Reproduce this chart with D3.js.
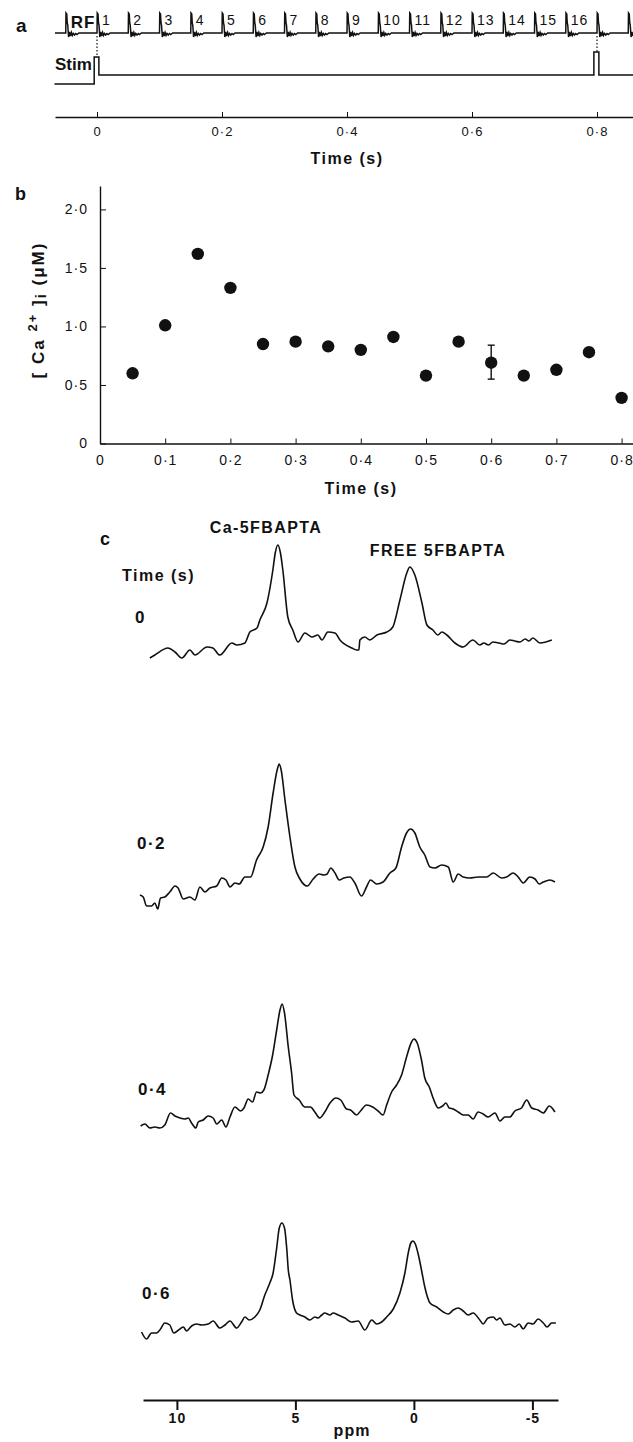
<!DOCTYPE html>
<html>
<head>
<meta charset="utf-8">
<script src="https://cdn.jsdelivr.net/npm/d3@7"></script>
<style>
body { margin: 0; background: #fff; }
svg text { font-family: "Liberation Sans", Arial, sans-serif; fill: #111; }
.bold { font-weight: bold; }
</style>
</head>
<body>
<div id="chart"></div>
<script>
// ---------- data ----------
// panel a: RF pulse times (s) and their labels
let rfTimes = [-0.05, 0, 0.05, 0.1, 0.15, 0.2, 0.25, 0.3, 0.35, 0.4, 0.45, 0.5, 0.55, 0.6, 0.65, 0.7, 0.75, 0.8, 0.85];
let rfLabels = ["RF", "1", "2", "3", "4", "5", "6", "7", "8", "9", "10", "11", "12", "13", "14", "15", "16"];
// shape of one RF echo: [ms after pulse, amplitude]
let rfEcho = [[0, 0], [0.4, 20], [1.6, 19], [2.4, 10], [3.2, 8], [4.5, -4], [6, 1], [7.5, -3], [9, 0.5],
  [10.5, -2.5], [12, -0.5], [14, -2], [16, -0.5], [18, -1.5], [21, 0]];
// stimulus trace: [time s, level]
let stimTrace = [[-0.068, -0.5], [-0.0045, -0.5], [-0.0045, 1], [0.003, 1], [0.003, 0], [0.795, 0],
  [0.795, 1.28], [0.803, 1.28], [0.803, 0], [0.86, 0]];
let stimTimes = [0, 0.8];
let timeTicksA = [0, 0.2, 0.4, 0.6, 0.8];

// panel b: [Ca2+]i
let caTime = [0.05, 0.1, 0.15, 0.2, 0.25, 0.3, 0.35, 0.4, 0.45, 0.5, 0.55, 0.6, 0.65, 0.7, 0.75, 0.8];
let caConc = [0.60, 1.01, 1.62, 1.33, 0.85, 0.87, 0.83, 0.80, 0.91, 0.58, 0.87, 0.69, 0.58, 0.63, 0.78, 0.39];
let errBar = {t: 0.6, lo: 0.55, hi: 0.84};
let timeTicksB = [0, 0.1, 0.2, 0.3, 0.4, 0.5, 0.6, 0.7, 0.8];
let concTicks = [0, 0.5, 1.0, 1.5, 2.0];

// panel c: 19F spectra [ppm, intensity]
let specLabels = ["0", "0\u00b72", "0\u00b74", "0\u00b76"];
let spec0 = [[11.14,7],[10.93,10],[10.38,17],[10.08,13],[9.79,7],[9.45,15],[9.24,10],[8.73,18],[8.48,17],[8.19,10],
  [7.68,22],[7.47,20],[7.13,22],[6.92,33],[6.62,37],[6.50,45],[6.20,62],[5.95,95],[5.85,112],[5.74,120],[5.63,112],
  [5.53,95],[5.32,48],[5.11,35],[4.89,23],[4.60,32],[4.30,28],[4.05,30],[3.88,25],[3.63,33],[3.33,32],[3.12,25],
  [2.62,17],[2.41,15],[2.32,15],[2.28,25],[2.07,28],[1.86,25],[1.56,30],[1.14,33],[0.89,38],[0.59,65],[0.30,92],
  [0.17,98],[-0.04,90],[-0.34,62],[-0.55,40],[-0.80,35],[-1.01,30],[-1.18,33],[-1.39,30],[-1.73,22],[-2.07,18],
  [-2.49,25],[-2.78,20],[-2.95,22],[-3.15,20],[-3.33,23],[-3.6,22],[-3.8,21],[-4.05,25],[-4.25,24],[-4.47,23],
  [-4.7,26],[-4.85,24],[-5.02,27],[-5.32,22],[-5.82,25]];
let spec02 = [[11.56,17],[11.42,15],[11.28,6],[11.07,6],[10.93,9],[10.81,3],[10.69,14],[10.51,15],[10.30,20],[10.08,26],
  [9.95,24],[9.73,13],[9.45,15],[9.24,12],[9.03,25],[8.82,20],[8.61,24],[8.32,26],[8.11,34],[7.93,32],[7.76,25],
  [7.55,29],[7.37,28],[7.13,35],[6.89,35],[6.64,52],[6.36,65],[6.15,85],[5.94,119],[5.77,142],[5.68,148],[5.60,142],
  [5.44,112],[5.23,75],[5.02,45],[4.81,33],[4.50,26],[4.25,33],[4.00,38],[3.80,37],[3.66,38],[3.51,44],[3.33,39],
  [3.15,32],[2.95,34],[2.70,35],[2.49,29],[2.21,16],[2.00,25],[1.83,32],[1.57,28],[1.30,30],[1.01,39],[0.76,44],
  [0.52,65],[0.31,79],[0.14,83],[-0.04,79],[-0.25,65],[-0.46,57],[-0.68,45],[-0.89,44],[-1.17,47],[-1.45,45],
  [-1.66,30],[-1.87,38],[-2.08,35],[-2.36,34],[-2.71,35],[-3.07,35],[-3.35,39],[-3.70,34],[-3.91,35],[-4.19,39],
  [-4.40,35],[-4.61,29],[-4.89,35],[-5.11,33],[-5.29,28],[-5.46,30],[-5.74,32],[-5.95,30]];
let spec04 = [[11.53,4],[11.35,6],[11.14,2],[10.93,3],[10.72,2],[10.51,5],[10.27,17],[10.08,14],[9.87,12],[9.66,11],
  [9.52,12],[9.38,7],[9.20,2],[9.10,8],[8.89,10],[8.68,14],[8.47,12],[8.32,6],[8.11,10],[7.93,3],[7.76,13],[7.55,23],
  [7.31,19],[7.17,22],[6.99,31],[6.81,28],[6.64,38],[6.47,37],[6.33,40],[6.15,55],[5.96,75],[5.79,100],[5.65,120],
  [5.56,126],[5.46,117],[5.30,83],[5.16,57],[5.06,35],[4.84,30],[4.60,23],[4.36,23],[4.18,18],[3.97,12],[3.76,18],
  [3.54,27],[3.29,32],[3.09,30],[2.84,21],[2.67,20],[2.42,15],[2.25,19],[2.00,25],[1.74,23],[1.51,19],[1.30,15],
  [1.15,25],[0.94,38],[0.73,45],[0.52,55],[0.31,73],[0.10,88],[0.00,91],[-0.14,87],[-0.32,70],[-0.46,52],[-0.65,43],
  [-0.81,32],[-1.03,22],[-1.21,24],[-1.35,27],[-1.49,22],[-1.66,21],[-1.87,18],[-2.08,15],[-2.29,15],[-2.50,11],
  [-2.71,18],[-2.92,16],[-3.13,13],[-3.42,17],[-3.63,9],[-3.84,13],[-4.05,13],[-4.26,19],[-4.54,22],[-4.76,30],
  [-4.97,22],[-5.24,20],[-5.46,17],[-5.71,24],[-5.95,18]];
let spec06 = [[11.49,10],[11.28,3],[11.07,9],[10.86,9],[10.72,12],[10.51,19],[10.30,17],[10.13,9],[9.87,13],[9.73,15],
  [9.59,11],[9.38,16],[9.17,18],[8.96,17],[8.68,18],[8.47,21],[8.19,14],[7.97,17],[7.76,21],[7.48,14],[7.27,20],
  [7.13,25],[6.95,22],[6.71,25],[6.50,32],[6.29,47],[6.08,59],[5.94,69],[5.80,92],[5.68,114],[5.57,119],[5.46,114],
  [5.36,92],[5.30,72],[5.23,62],[5.12,42],[4.95,29],[4.81,27],[4.60,25],[4.39,22],[4.18,25],[4.04,24],[3.89,27],
  [3.76,29],[3.54,27],[3.41,29],[3.19,27],[2.91,24],[2.63,20],[2.35,21],[2.07,12],[1.78,22],[1.57,18],[1.36,20],
  [1.15,25],[0.87,33],[0.59,49],[0.38,69],[0.23,90],[0.13,99],[0.04,101],[-0.06,98],[-0.19,87],[-0.32,72],[-0.46,55],
  [-0.68,39],[-0.96,35],[-1.24,30],[-1.45,28],[-1.66,32],[-1.87,34],[-2.08,31],[-2.29,27],[-2.50,29],[-2.78,22],
  [-2.92,18],[-3.13,24],[-3.35,25],[-3.49,22],[-3.63,24],[-3.84,17],[-4.05,18],[-4.26,15],[-4.44,18],[-4.61,13],
  [-4.82,19],[-5.03,18],[-5.24,23],[-5.46,19],[-5.62,15],[-5.81,19],[-5.99,19]];
let ppmTicks = [10, 5, 0, -5];

// ---------- drawing ----------
let width = 633;
let height = 1442;
let ink = '#111';
let svg = d3.select('#chart').append('svg')
  .attr('width', width)
  .attr('height', height);

function dotFmt(d) {
  return d === 0 ? '0' : d3.format('.1f')(d).replace('.', '\u00b7');
}
function styleAxis(g, size, bold) {
  g.attr('font-family', null).attr('font-size', size);
  g.selectAll('text').attr('fill', ink).classed('bold', !!bold).style('letter-spacing', '1px');
  g.selectAll('line, path').attr('stroke', ink);
}
function label(txt, x, y, size, anchor) {
  return svg.append('text').attr('class', 'bold')
    .attr('x', x).attr('y', y)
    .attr('font-size', size)
    .attr('text-anchor', anchor || 'start')
    .text(txt);
}

// ===== panel a =====
label('a', 16, 32, 19);
let xa = d3.scaleLinear().domain([-0.0672, 0.8576]).range([55, 633]);
let yRF = d3.scaleLinear().domain([0, 20]).range([33, 13]);
let yStim = d3.scaleLinear().domain([0, 1]).range([75, 57]);

let rfPts = [[xa.domain()[0], 0]];
rfTimes.forEach(function(t) {
  rfEcho.forEach(function(e) { rfPts.push([t + e[0] / 1000, e[1]]); });
});
rfPts = rfPts.filter(p => p[0] <= xa.domain()[1]);

svg.append('path')
  .datum(rfPts)
  .attr('fill', 'none').attr('stroke', ink).attr('stroke-width', 1.5)
  .attr('d', d3.line().x(d => xa(d[0])).y(d => yRF(d[1])));

svg.selectAll('.rflab')
  .data(rfLabels)
  .enter().append('text')
  .attr('class', (d, i) => i === 0 ? 'rflab bold' : 'rflab')
  .attr('x', (d, i) => xa(rfTimes[i]) + 5)
  .attr('y', (d, i) => i === 0 ? 28 : 25)
  .attr('font-size', (d, i) => i === 0 ? 17 : 14)
  .style('letter-spacing', '1px')
  .text(d => d);

svg.append('path')
  .datum(stimTrace)
  .attr('fill', 'none').attr('stroke', ink).attr('stroke-width', 1.5)
  .attr('d', d3.line().x(d => xa(d[0])).y(d => yStim(d[1])));

svg.selectAll('.stimdot')
  .data(stimTimes)
  .enter().append('line')
  .attr('class', 'stimdot')
  .attr('x1', d => xa(d)).attr('x2', d => xa(d))
  .attr('y1', yRF(-3))
  .attr('y2', (d, i) => yStim(i === 0 ? 1 : 1.28))
  .attr('stroke', ink).attr('stroke-width', 1.2)
  .attr('stroke-dasharray', '1.5,2');

label('Stim', 55, 70, 17);

let axA = svg.append('g').attr('transform', 'translate(0,117)')
  .call(d3.axisBottom(xa).tickValues(timeTicksA).tickSize(-5).tickSizeOuter(0).tickPadding(10).tickFormat(dotFmt));
styleAxis(axA, 13);
axA.select('.domain').attr('stroke-width', 1.4);
label('Time (s)', 347, 164, 16, 'middle').style('letter-spacing', '1.5px');

// ===== panel b =====
label('b', 15, 200, 18);
let xb = d3.scaleLinear().domain([0, 0.8175]).range([100, 633]);
let yb = d3.scaleLinear().domain([0, 2.2]).range([443.5, 186]);

let axBx = svg.append('g').attr('transform', 'translate(0,' + yb(0) + ')')
  .call(d3.axisBottom(xb).tickValues(timeTicksB).tickSize(-5).tickSizeOuter(0).tickPadding(12).tickFormat(dotFmt));
styleAxis(axBx, 14);
axBx.select('.domain').attr('stroke-width', 1.4);

let axBy = svg.append('g').attr('transform', 'translate(' + xb(0) + ',0)')
  .call(d3.axisLeft(yb).tickValues(concTicks).tickSize(-6).tickSizeOuter(0).tickPadding(12).tickFormat(dotFmt));
styleAxis(axBy, 14);
axBy.select('.domain').attr('stroke-width', 1.4);

svg.append('line')
  .attr('x1', xb(errBar.t)).attr('x2', xb(errBar.t))
  .attr('y1', yb(errBar.lo)).attr('y2', yb(errBar.hi))
  .attr('stroke', ink).attr('stroke-width', 1.4);
[errBar.lo, errBar.hi].forEach(function(v) {
  svg.append('line')
    .attr('x1', xb(errBar.t) - 3.5).attr('x2', xb(errBar.t) + 3.5)
    .attr('y1', yb(v)).attr('y2', yb(v))
    .attr('stroke', ink).attr('stroke-width', 1.4);
});

svg.selectAll('.capt')
  .data(caTime)
  .enter().append('circle')
  .attr('class', 'capt')
  .attr('cx', d => xb(d))
  .attr('cy', (d, i) => yb(caConc[i]))
  .attr('r', 6.2)
  .attr('fill', ink);

let ylab = svg.append('text').attr('class', 'bold')
  .attr('transform', 'translate(44,310) rotate(-90)')
  .attr('text-anchor', 'middle')
  .attr('font-size', 17)
  .style('letter-spacing', '2px');
ylab.append('tspan').text('[ Ca ');
ylab.append('tspan').attr('font-size', 13).attr('dy', -7).text('2+');
ylab.append('tspan').attr('dy', 7).text(' ]');
ylab.append('tspan').attr('font-size', 15).attr('dy', 2).text('i');
ylab.append('tspan').attr('dy', -2).text('  (\u03bcM)');

label('Time (s)', 361, 494, 16, 'middle').style('letter-spacing', '1.5px');

// ===== panel c =====
label('c', 100, 545, 18);
label('Ca-5FBAPTA', 266, 533, 16, 'middle').style('letter-spacing', '1.4px');
label('FREE 5FBAPTA', 438, 556, 16, 'middle').style('letter-spacing', '1.4px');
label('Time (s)', 122, 581, 16).style('letter-spacing', '1.5px');

let xc = d3.scaleLinear().domain([11.43, -6.08]).range([143, 558]);
let yc = d3.scaleLinear().domain([0, 100]).range([0, -100]);
let specs = [spec0, spec02, spec04, spec06];
let specBase = [665, 912, 1130, 1342];
let specLabX = [135, 137, 138, 142];
let specLabY = [623, 849, 1095, 1299];

let specLine = d3.line()
  .x(d => xc(d[0]))
  .y(d => yc(d[1]))
  .curve(d3.curveMonotoneX);

specs.forEach(function(s, i) {
  svg.append('g').attr('transform', 'translate(0,' + specBase[i] + ')')
    .append('path')
    .datum(s)
    .attr('fill', 'none').attr('stroke', ink).attr('stroke-width', 1.6)
    .attr('stroke-linejoin', 'round')
    .attr('d', specLine);
  label(specLabels[i], specLabX[i], specLabY[i], 17).style('letter-spacing', '1.5px');
});

let axC = svg.append('g').attr('transform', 'translate(0,1400)')
  .call(d3.axisBottom(xc).tickValues(ppmTicks).tickSize(10).tickSizeOuter(0).tickPadding(3).tickFormat(d => String(d)));
styleAxis(axC, 14, true);
axC.select('.domain').attr('stroke-width', 2.2);
axC.selectAll('.tick line').attr('stroke-width', 2);
label('ppm', 352, 1436, 16, 'middle').style('letter-spacing', '1px');
</script>
</body>
</html>
